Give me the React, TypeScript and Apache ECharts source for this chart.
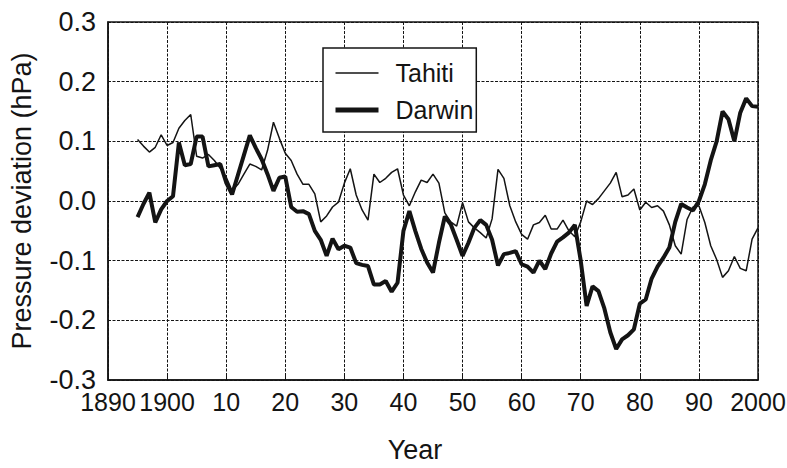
import React, { useEffect, useRef } from "react";
import * as echarts from "echarts";

// Annual mean pressure deviations (hPa), 1895–2000
const START_YEAR = 1895;

const tahiti = [
  0.103, 0.092, 0.082, 0.09, 0.111, 0.093, 0.098, 0.122, 0.135, 0.145,
  0.075, 0.072, 0.078, 0.068, 0.055, 0.04, 0.017, 0.028, 0.045, 0.062,
  0.058, 0.052, 0.085, 0.132, 0.105, 0.08, 0.068, 0.045, 0.028, 0.028,
  0.012, -0.035, -0.025, -0.01, -0.002, 0.03, 0.054, 0.01, -0.015, -0.032,
  0.045, 0.031, 0.038, 0.048, 0.054, 0.01, -0.008, 0.015, 0.035, 0.031,
  0.045, 0.03, -0.02, -0.035, -0.042, -0.003, -0.035, -0.045, -0.053, -0.062,
  -0.03, 0.053, 0.038, -0.008, -0.035, -0.056, -0.064, -0.04, -0.036, -0.024,
  -0.047, -0.047, -0.032, -0.05, -0.06, -0.035, 0.0, -0.006, 0.004, 0.017,
  0.03, 0.048, 0.007, 0.01, 0.02, -0.015, -0.002, -0.011, -0.008, -0.017,
  -0.04, -0.075, -0.089, -0.031, -0.01, -0.008, -0.036, -0.075, -0.098, -0.128,
  -0.117, -0.093, -0.113, -0.117, -0.064, -0.045,
];

const darwin = [
  -0.027, -0.005, 0.014, -0.036, -0.014, 0.0, 0.008, 0.098, 0.06, 0.062,
  0.108, 0.108, 0.058, 0.06, 0.062, 0.031, 0.011, 0.044, 0.077, 0.11,
  0.089, 0.07, 0.045, 0.017, 0.039, 0.041, -0.01, -0.018, -0.017, -0.022,
  -0.05, -0.065, -0.092, -0.063, -0.081, -0.075, -0.078, -0.104, -0.107, -0.109,
  -0.14, -0.14, -0.134, -0.152, -0.137, -0.05, -0.017, -0.05, -0.08, -0.103,
  -0.12, -0.07, -0.026, -0.039, -0.065, -0.092, -0.07, -0.045, -0.032, -0.04,
  -0.065, -0.108, -0.089, -0.087, -0.084, -0.106, -0.11, -0.12, -0.1, -0.114,
  -0.088, -0.068, -0.061, -0.053, -0.04, -0.1, -0.176, -0.143, -0.151, -0.18,
  -0.22, -0.248, -0.232, -0.225, -0.215, -0.172, -0.165, -0.13, -0.11, -0.095,
  -0.078, -0.035, -0.005, -0.011, -0.016, 0.0, 0.028, 0.068, 0.1, 0.15,
  0.137, 0.1, 0.148, 0.172, 0.159, 0.158,
];

const years = tahiti.map((_, i) => START_YEAR + i);

const xTickLabels = ["1890", "1900", "10", "20", "30", "40", "50", "60", "70", "80", "90", "2000"];
const yTickLabels = ["-0.3", "-0.2", "-0.1", "0.0", "0.1", "0.2", "0.3"];

const FONT = "'Liberation Sans Narrow', 'Arial Narrow', 'Liberation Sans', Arial, sans-serif";
const INK = "#141414";
const LABEL_SIZE = 27;
const TAHITI_WIDTH = 1.5;
const DARWIN_WIDTH = 4;

export default function App() {
  const ref = useRef<HTMLDivElement>(null);

  useEffect(() => {
    if (!ref.current) return;
    const chart = echarts.init(ref.current, undefined, { renderer: "svg" });

    const gridLine = { show: true, lineStyle: { color: INK, width: 1, type: [3, 1.5] as number[] } };

    chart.setOption({
      animation: false,
      backgroundColor: "#ffffff",
      textStyle: { fontFamily: FONT },
      grid: {
        left: 108,
        right: 29,
        top: 22,
        bottom: 88,
        outerBoundsMode: "none",
        show: true,
        borderColor: INK,
        borderWidth: 1.5,
        backgroundColor: "transparent",
      },
      legend: {
        left: 323,
        top: 48,
        orient: "vertical",
        backgroundColor: "#ffffff",
        borderColor: INK,
        borderWidth: 1.5,
        borderRadius: 0,
        padding: [10, 3, 7, 10],
        itemWidth: 43,
        itemHeight: 14,
        itemGap: 7,
        itemStyle: { opacity: 0 },
        textStyle: { fontFamily: FONT, fontSize: 25, lineHeight: 30, color: INK, padding: [0, 0, 0, 12] },
        data: [
          { name: "Tahiti", lineStyle: { width: TAHITI_WIDTH, color: INK } },
          { name: "Darwin", lineStyle: { width: DARWIN_WIDTH + 1, color: INK } },
        ],
      },
      xAxis: {
        type: "value",
        min: 1890,
        max: 2000,
        interval: 10,
        name: "Year",
        nameLocation: "middle",
        nameGap: 56,
        nameTextStyle: { fontFamily: FONT, fontSize: LABEL_SIZE, color: INK, padding: [0, 36, 0, 0] },
        axisLine: { show: true, onZero: false, lineStyle: { color: INK, width: 1.5 } },
        axisTick: { show: true, inside: true, length: 6, lineStyle: { color: INK, width: 1 } },
        axisLabel: {
          fontFamily: FONT,
          fontSize: 25,
          color: INK,
          margin: 9,
          showMinLabel: true,
          showMaxLabel: true,
          hideOverlap: false,
          formatter: (v: number) => xTickLabels[Math.round((v - 1890) / 10)],
        },
        splitLine: gridLine,
      },
      yAxis: {
        type: "value",
        min: -0.3,
        max: 0.3,
        interval: 0.1,
        name: "Pressure deviation (hPa)",
        nameLocation: "middle",
        nameRotate: 90,
        nameGap: 73,
        nameTextStyle: { fontFamily: FONT, fontSize: LABEL_SIZE, color: INK },
        axisLine: { show: true, onZero: false, lineStyle: { color: INK, width: 1.5 } },
        axisTick: { show: false },
        axisLabel: {
          fontFamily: FONT,
          fontSize: LABEL_SIZE,
          color: INK,
          margin: 12,
          formatter: (v: number) => yTickLabels[Math.round((v + 0.3) / 0.1)],
        },
        splitLine: gridLine,
      },
      series: [
        {
          name: "Tahiti",
          type: "line",
          symbol: "none",
          data: years.map((y, i) => [y, tahiti[i]]),
          lineStyle: { color: INK, width: TAHITI_WIDTH },
          itemStyle: { color: INK },
          z: 3,
        },
        {
          name: "Darwin",
          type: "line",
          symbol: "none",
          data: years.map((y, i) => [y, darwin[i]]),
          lineStyle: { color: INK, width: DARWIN_WIDTH },
          itemStyle: { color: INK },
          z: 4,
        },
      ],
    });

    return () => chart.dispose();
  }, []);

  return (
    <div
      ref={ref}
      style={{ position: "fixed", left: 0, top: 0, width: 787, height: 468, background: "#ffffff" }}
    />
  );
}
